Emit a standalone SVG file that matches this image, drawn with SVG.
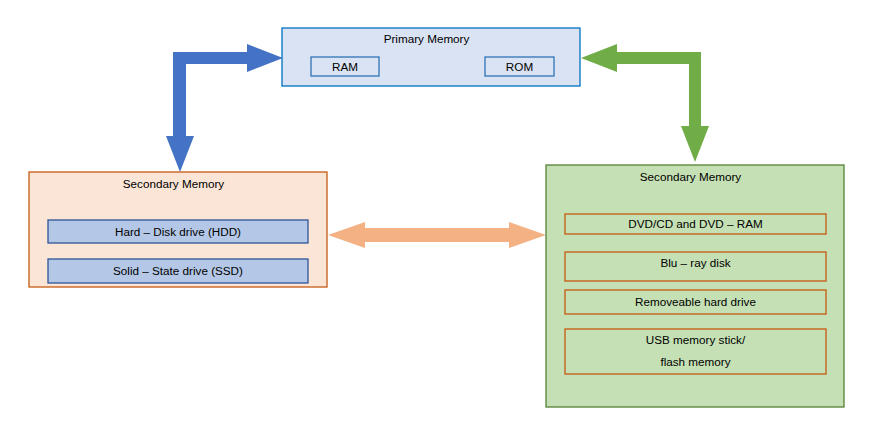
<svg xmlns="http://www.w3.org/2000/svg" width="885" height="422" viewBox="0 0 885 422">
<style>
text{font-family:"Liberation Sans",Arial,sans-serif;font-size:11.7px;fill:#000;text-anchor:middle}
.prim{fill:#dae3f3;stroke:#0070c0;stroke-width:1.3}
.primin{fill:none;stroke:#2e75b6;stroke-width:1.3}
.secl{fill:#fbe5d6;stroke:#c55a11;stroke-width:1.3}
.seclin{fill:#b4c7e7;stroke:#2f5597;stroke-width:1.3}
.secr{fill:#c5e0b4;stroke:#548235;stroke-width:1.3}
.secrin{fill:none;stroke:#c55a11;stroke-width:1.3}
</style>
<g id="connectors">
<polygon fill="#4472c4" points="283,58 247,44 247,52 173,52 173,136 166,136 180,172 194,136 186,136 186,64 247,64 247,72"/>
<polygon fill="#70ad47" points="581,58 617,44 617,52 701,52 701,126 709,126 695,162 681,126 689,126 689,64 617,64 617,72"/>
<polygon fill="#f4b183" points="328,235 365,222 365,228 509,228 509,222 546,235 509,248 509,242 365,242 365,248"/>
</g>
<g id="primary">
<rect class="prim" x="282" y="28" width="298" height="58"/>
<text x="426.5" y="43">Primary Memory</text>
<rect class="primin" x="311" y="57" width="68" height="19"/>
<text x="345" y="71">RAM</text>
<rect class="primin" x="485" y="57" width="69" height="19"/>
<text x="519.5" y="71">ROM</text>
</g>
<g id="secondary-left">
<rect class="secl" x="29" y="172" width="298" height="115"/>
<text x="173.5" y="188">Secondary Memory</text>
<rect class="seclin" x="48" y="220" width="260" height="23"/>
<text x="178" y="236">Hard – Disk drive (HDD)</text>
<rect class="seclin" x="48" y="259" width="260" height="24"/>
<text x="178" y="275">Solid – State drive (SSD)</text>
</g>
<g id="secondary-right">
<rect class="secr" x="546" y="165" width="298" height="242"/>
<text x="690.5" y="181">Secondary Memory</text>
<rect class="secrin" x="565" y="214" width="261" height="20"/>
<text x="695.5" y="228">DVD/CD and DVD – RAM</text>
<rect class="secrin" x="565" y="252" width="261" height="29"/>
<text x="695.5" y="267">Blu – ray disk</text>
<rect class="secrin" x="565" y="290" width="261" height="24"/>
<text x="695.5" y="306">Removeable hard drive</text>
<rect class="secrin" x="565" y="329" width="261" height="45"/>
<text x="695.5" y="344">USB memory stick/</text>
<text x="695.5" y="366">flash memory</text>
</g>
</svg>
